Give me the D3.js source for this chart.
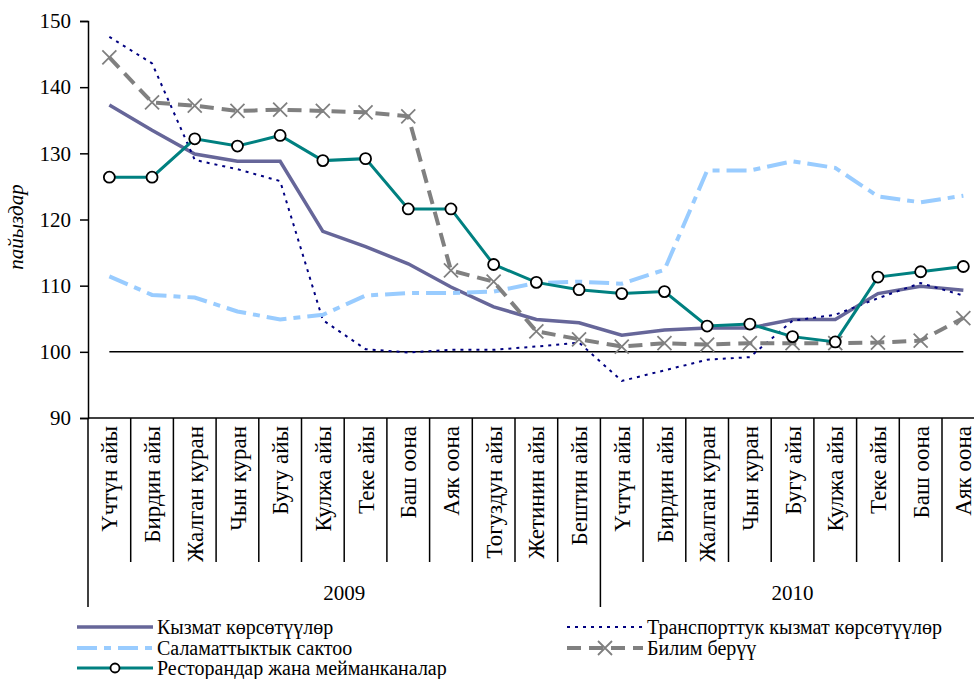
<!DOCTYPE html>
<html>
<head>
<meta charset="utf-8">
<script src="https://cdn.jsdelivr.net/npm/d3@7"></script>
<style>
  body { margin: 0; background: #fff; }
</style>
</head>
<body>
<svg id="chart" width="974" height="679"></svg>
<script>
// месяцтар (2009: 12, 2010: 9)
const months = ['Үчтүн айы', 'Бирдин айы', 'Жалган куран', 'Чын куран', 'Бугу айы', 'Кулжа айы',
  'Теке айы', 'Баш оона', 'Аяк оона', 'Тогуздун айы', 'Жетинин айы', 'Бештин айы',
  'Үчтүн айы', 'Бирдин айы', 'Жалган куран', 'Чын куран', 'Бугу айы', 'Кулжа айы',
  'Теке айы', 'Баш оона', 'Аяк оона'];
const years = [{label: '2009', from: 0, to: 12}, {label: '2010', from: 12, to: 21}];
const yTicks = [90, 100, 110, 120, 130, 140, 150];

const kyzmat = [137.3, 133.5, 129.9, 128.8, 128.8, 118.2, 115.9, 113.3, 109.8, 106.8, 104.9, 104.4,
  102.5, 103.3, 103.6, 103.6, 104.9, 104.9, 108.8, 109.9, 109.3];
const transport = [147.6, 143.6, 129.0, 127.6, 125.8, 104.8, 100.4, 99.9, 100.3, 100.3, 100.8, 101.4,
  95.6, 97.2, 98.8, 99.2, 104.7, 105.6, 108.1, 110.4, 108.5];
const salamat = [111.4, 108.6, 108.2, 106.1, 104.9, 105.6, 108.5, 108.9, 108.9, 109.1, 110.4, 110.6,
  110.3, 112.4, 127.4, 127.4, 128.8, 127.8, 123.5, 122.6, 123.6];
const bilim = [144.5, 137.7, 137.2, 136.4, 136.6, 136.4, 136.2, 135.6, 112.3, 110.6, 103.1, 101.9,
  100.8, 101.3, 101.1, 101.3, 101.3, 101.3, 101.4, 101.7, 105.1];
const restoran = [126.4, 126.4, 132.2, 131.1, 132.7, 128.9, 129.2, 121.6, 121.6, 113.2, 110.5, 109.4,
  108.8, 109.1, 103.9, 104.2, 102.3, 101.5, 111.3, 112.1, 112.9];
const baseLine = 100;

const series = [
  {name: 'Кызмат көрсөтүүлөр', values: kyzmat, color: '#666699', width: 3.5, dash: null, marker: null},
  {name: 'Транспорттук кызмат көрсөтүүлөр', values: transport, color: '#000080', width: 2, dash: '3,5', marker: null},
  {name: 'Саламаттыктык сактоо', values: salamat, color: '#99ccff', width: 4, dash: '20,7,7,7', marker: null},
  {name: 'Билим берүү', values: bilim, color: '#808080', width: 4, dash: '14,8', marker: 'x'},
  {name: 'Ресторандар жана мейманканалар', values: restoran, color: '#008080', width: 3, dash: null, marker: 'o'}
];

const FONT = 'Liberation Serif';
const svg = d3.select('#chart');
const plotLeft = 88, plotTop = 21, plotBottom = 418, band = 42.7;

const x = d3.scaleBand()
  .domain(d3.range(months.length))
  .range([plotLeft, plotLeft + band * months.length]);
const cx = i => x(i) + x.bandwidth() / 2;

const y = d3.scaleLinear().domain([90, 150]).range([plotBottom, plotTop]);

// Y огу
const yAxis = d3.axisLeft(y).tickValues(yTicks).tickSize(8).tickPadding(9);
const yg = svg.append('g')
  .attr('transform', 'translate(' + plotLeft + ',0)')
  .call(yAxis)
  .attr('font-family', FONT)
  .attr('font-size', 21);
yg.select('.domain').attr('stroke', '#000').attr('stroke-width', 1.5);
yg.selectAll('.tick line').attr('stroke', '#000').attr('stroke-width', 1.5);
yg.selectAll('.tick text').attr('fill', '#000');

svg.append('text')
  .attr('transform', 'translate(16,227) rotate(-90)')
  .attr('text-anchor', 'middle')
  .attr('dy', '0.35em')
  .attr('font-family', FONT)
  .attr('font-size', 21)
  .attr('font-style', 'italic')
  .text('пайыздар');

// X огу жана бөлгүчтөр
svg.append('line')
  .attr('x1', plotLeft).attr('x2', 974)
  .attr('y1', plotBottom).attr('y2', plotBottom)
  .attr('stroke', '#000').attr('stroke-width', 1.5);

const yearBounds = years.map(d => d.from).concat([months.length]);
svg.append('g').selectAll('line')
  .data(d3.range(months.length + 1))
  .join('line')
  .attr('x1', i => plotLeft + band * i).attr('x2', i => plotLeft + band * i)
  .attr('y1', plotBottom)
  .attr('y2', i => yearBounds.includes(i) ? 607 : 562)
  .attr('stroke', '#000').attr('stroke-width', 1.5);

svg.append('g').selectAll('text')
  .data(months)
  .join('text')
  .attr('transform', (d, i) => 'translate(' + cx(i) + ',426) rotate(-90)')
  .attr('text-anchor', 'end')
  .attr('dy', '0.35em')
  .attr('font-family', FONT)
  .attr('font-size', 23)
  .text(d => d);

svg.append('g').selectAll('text')
  .data(years)
  .join('text')
  .attr('x', d => (plotLeft + band * d.from + plotLeft + band * d.to) / 2)
  .attr('y', 593)
  .attr('text-anchor', 'middle')
  .attr('dy', '0.35em')
  .attr('font-family', FONT)
  .attr('font-size', 21)
  .text(d => d.label);

// 100 сызыгы
svg.append('line')
  .attr('x1', cx(0)).attr('x2', cx(months.length - 1))
  .attr('y1', y(baseLine)).attr('y2', y(baseLine))
  .attr('stroke', '#000').attr('stroke-width', 1.5);

// сызыктар
const line = d3.line().x((d, i) => cx(i)).y(d => y(d));

const drawMarker = (g, type, color) => {
  if (type === 'o') {
    g.append('circle').attr('r', 5.5)
      .attr('fill', '#fff').attr('stroke', '#000').attr('stroke-width', 1.8);
  } else if (type === 'x') {
    g.append('path').attr('d', 'M-7,-7L7,7M-7,7L7,-7')
      .attr('stroke', color).attr('stroke-width', 1.8).attr('fill', 'none');
  }
};

series.forEach(s => {
  svg.append('path')
    .datum(s.values)
    .attr('d', line)
    .attr('fill', 'none')
    .attr('stroke', s.color)
    .attr('stroke-width', s.width)
    .attr('stroke-dasharray', s.dash);
  if (s.marker) {
    svg.append('g').selectAll('g')
      .data(s.values)
      .join('g')
      .attr('transform', (d, i) => 'translate(' + cx(i) + ',' + y(d) + ')')
      .each(function() { drawMarker(d3.select(this), s.marker, s.color); });
  }
});

// легенда
const legendPos = [[77, 627], [567, 627], [77, 648], [567, 648], [77, 668]];
series.forEach((s, i) => {
  const [lx, ly] = legendPos[i];
  const g = svg.append('g').attr('transform', 'translate(' + lx + ',' + ly + ')');
  g.append('line')
    .attr('x1', 0).attr('x2', 76)
    .attr('stroke', s.color)
    .attr('stroke-width', s.width)
    .attr('stroke-dasharray', s.dash);
  if (s.marker) {
    const m = g.append('g').attr('transform', 'translate(38,0)');
    drawMarker(m, s.marker, s.color);
    if (s.marker === 'o') m.select('circle').attr('r', 4.5);
  }
  g.append('text')
    .attr('x', 80)
    .attr('dy', '0.33em')
    .attr('font-family', FONT)
    .attr('font-size', 20)
    .text(s.name);
});
</script>
</body>
</html>
